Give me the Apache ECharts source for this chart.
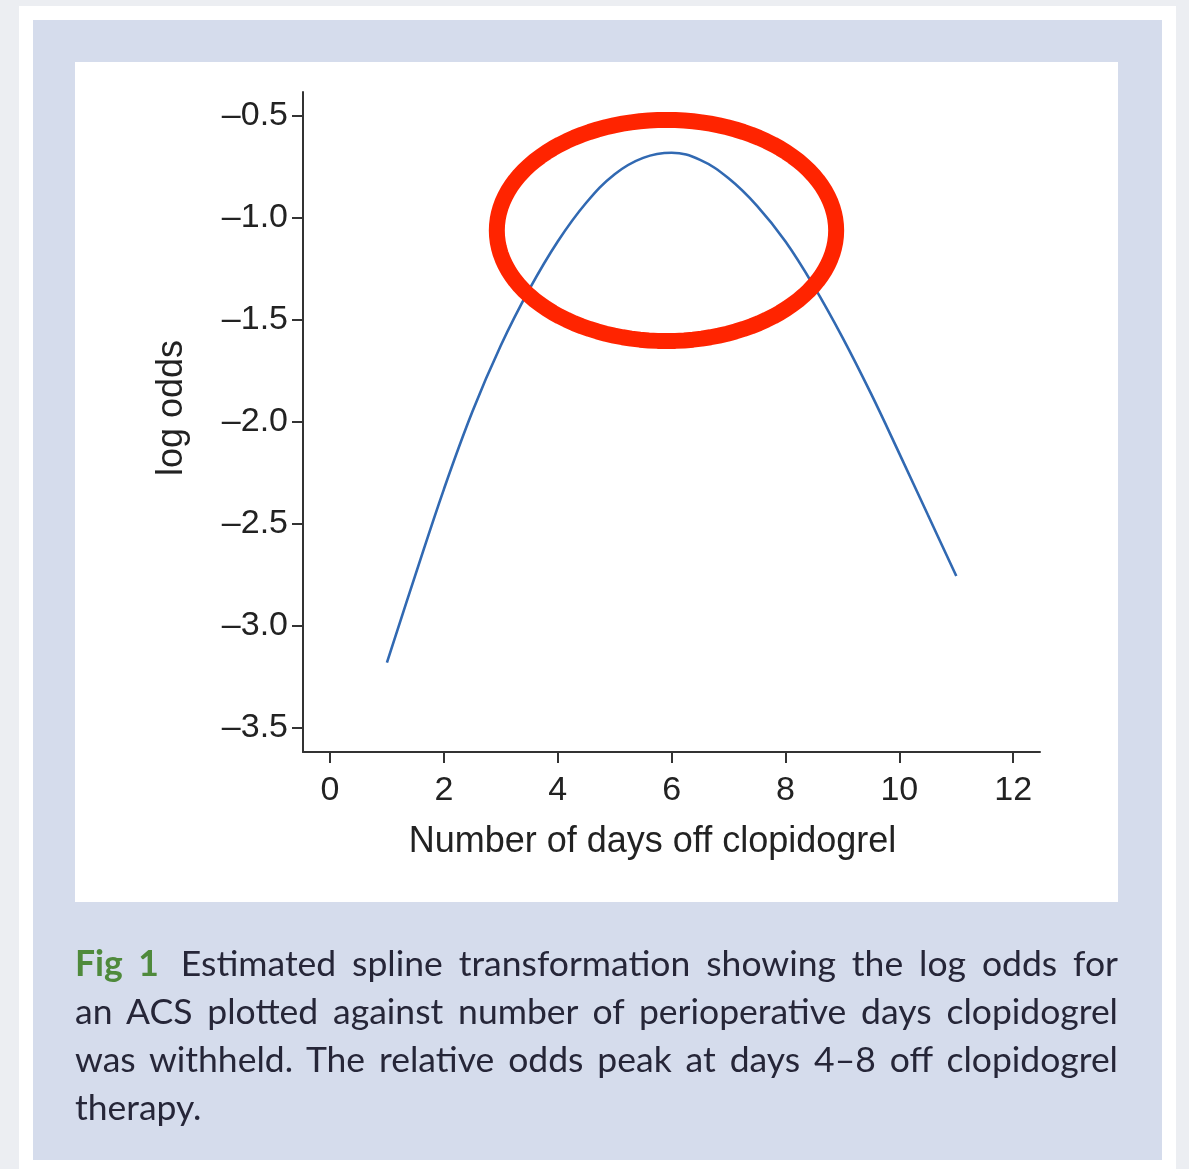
<!DOCTYPE html>
<html>
<head>
<meta charset="utf-8">
<script src="https://cdn.jsdelivr.net/npm/echarts@6/dist/echarts.min.js"></script>
<style>
  html, body { margin: 0; padding: 0; }
  body { width: 1189px; height: 1169px; position: relative; overflow: hidden; background: #eceef2; }
  .frame { position: absolute; left: 19px; top: 6px; width: 1157px; height: 1163px; background: #ffffff; }
  .panel { position: absolute; left: 33px; top: 20px; width: 1129px; height: 1140px; background: #d5dcec; }
  .plotbox { position: absolute; left: 75px; top: 62px; width: 1043px; height: 840px; background: #ffffff; }
  #chart { position: absolute; left: 0; top: 0; width: 1189px; height: 1169px; }
  .caption { position: absolute; left: 75px; top: 939px; width: 1043px; font-family: Lato, "Open Sans", sans-serif; font-size: 35.5px; line-height: 48px; color: #262638; }
  .caption .ln { text-align: justify; text-align-last: justify; white-space: nowrap; }
  .caption .ln.last { text-align-last: left; }
  .caption .fig { color: #4f8a3c; font-weight: bold; margin-right: 6px; }
</style>
</head>
<body>
<div class="frame"></div>
<div class="panel"></div>
<div class="plotbox"></div>
<div id="chart"></div>
<div class="caption">
  <div class="ln"><span class="fig">Fig 1</span> Estimated spline transformation showing the log odds for</div>
  <div class="ln">an ACS plotted against number of perioperative days clopidogrel</div>
  <div class="ln">was withheld. The relative odds peak at days 4–8 off clopidogrel</div>
  <div class="ln last">therapy.</div>
</div>
<script>
// Data
const daysOff = [1, 1.5, 2, 2.5, 3, 3.5, 4, 4.5, 5, 5.5, 6, 6.5, 7, 7.5, 8, 8.5, 9, 9.5, 10, 10.5, 11];
const logOdds = [-3.18, -2.75, -2.33, -1.95, -1.625, -1.35, -1.115, -0.925, -0.785, -0.705, -0.68, -0.715, -0.805, -0.94, -1.115, -1.335, -1.585, -1.86, -2.155, -2.455, -2.755];
const xTicks = [0, 2, 4, 6, 8, 10, 12];
const yTicks = [-3.5, -3.0, -2.5, -2.0, -1.5, -1.0, -0.5];
// Hand-drawn highlight ellipse (data units): centerX, centerY, radiusX, radiusY
const highlight = [5.91, -1.061, 2.98, 0.542];

const linePoints = daysOff.map((d, i) => [d, logOdds[i]]);
const axisColor = '#333333';
const labelFont = '"Liberation Sans", Arial, sans-serif';

const chart = echarts.init(document.getElementById('chart'), null, { renderer: 'canvas' });
chart.setOption({
  animation: false,
  backgroundColor: 'transparent',
  grid: { left: 303, top: 92, right: 149, bottom: 417, containLabel: false },
  xAxis: {
    type: 'value',
    min: -0.474,
    max: 12.47,
    name: 'Number of days off clopidogrel',
    nameLocation: 'middle',
    nameGap: 72,
    nameTextStyle: { fontFamily: labelFont, fontSize: 36, color: '#222', padding: [0, 38, 0, 0] },
    splitLine: { show: false },
    axisLine: { show: true, onZero: false, lineStyle: { color: axisColor, width: 2 } },
    axisTick: { show: true, length: 11, inside: false, customValues: xTicks, lineStyle: { color: axisColor, width: 2 } },
    axisLabel: { customValues: xTicks, margin: 22, fontFamily: labelFont, fontSize: 34, color: '#222' }
  },
  yAxis: {
    type: 'value',
    min: -3.618,
    max: -0.382,
    name: 'log odds',
    nameLocation: 'middle',
    nameGap: 113,
    nameRotate: 90,
    nameTextStyle: { fontFamily: labelFont, fontSize: 36, color: '#222', padding: [0, 0, 0, 28] },
    splitLine: { show: false },
    axisLine: { show: true, onZero: false, lineStyle: { color: axisColor, width: 2 } },
    axisTick: { show: true, length: 11, inside: false, customValues: yTicks, lineStyle: { color: axisColor, width: 2 } },
    axisLabel: {
      customValues: yTicks, margin: 15, fontFamily: labelFont, fontSize: 34, color: '#222',
      formatter: v => '\u2013' + Math.abs(v).toFixed(1)
    }
  },
  series: [
    {
      type: 'line',
      data: linePoints,
      smooth: 0.4,
      showSymbol: false,
      lineStyle: { color: '#3169b2', width: 2.6 },
      z: 2
    },
    {
      type: 'custom',
      clip: false,
      z: 5,
      data: [highlight],
      renderItem: function (params, api) {
        const cx = api.value(0), cy = api.value(1), rx = api.value(2), ry = api.value(3);
        const pts = [];
        const n = 120;
        for (let i = 0; i < n; i++) {
          const t = (i / n) * Math.PI * 2;
          pts.push(api.coord([cx + rx * Math.cos(t), cy + ry * Math.sin(t)]));
        }
        return {
          type: 'polygon',
          shape: { points: pts },
          style: { fill: 'none', stroke: '#ff2400', lineWidth: 16, lineJoin: 'round' }
        };
      }
    }
  ]
});
</script>
</body>
</html>
